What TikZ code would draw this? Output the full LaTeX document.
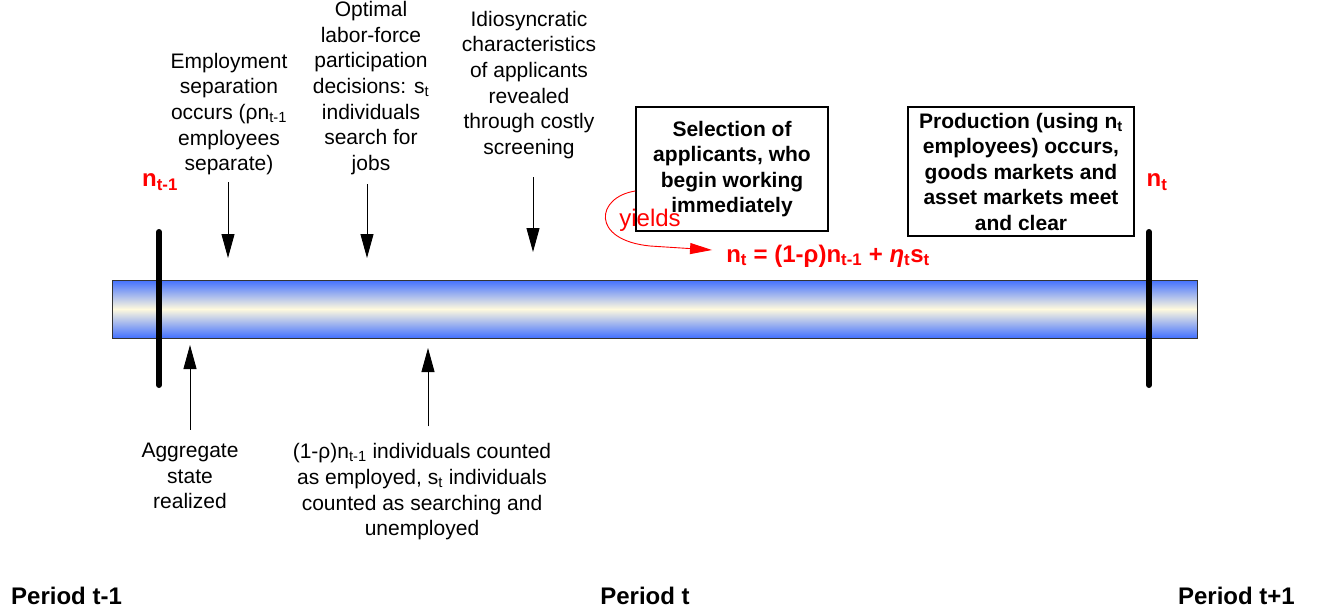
\documentclass[tikz,border=0pt]{standalone}
\usepackage{fontspec}
\setmainfont{Liberation Sans}
\usetikzlibrary{arrows.meta,positioning}
\definecolor{barblue}{RGB}{66,112,255}
\definecolor{barcream}{RGB}{255,250,222}
\newcommand{\lowidx}[1]{\textsubscript{#1}}

\begin{document}
\begin{tikzpicture}[x=1pt,y=-1pt,
		note/.style={align=center,inner sep=0pt,font=\fontsize{21}{25.7}\selectfont},
		event/.style={draw,line width=1.4pt,align=center,inner sep=0pt,font=\bfseries\fontsize{21}{25.5}\selectfont},
		pointer/.style={draw,-{Triangle[length=24pt,width=13pt]},line width=0.9pt},
		timemark/.style={line width=6pt,line cap=round},
		redlabel/.style={text=red,inner sep=0pt,font=\bfseries\fontsize{24}{28}\selectfont},
		period/.style={inner sep=0pt,font=\bfseries\fontsize{24}{28}\selectfont}
		]
		\useasboundingbox (0,0) rectangle (1327,615);
		% time line
		\node[draw=black!80,line width=0.8pt,minimum width=1085pt,minimum height=58pt,inner sep=0pt,
			top color=barblue,bottom color=barblue,middle color=barcream] (bar) at (654.5,309) {};
		\draw[timemark] (159,232) -- (159,385);
		\draw[timemark] (1149,232) -- (1149,385);
		% events above the line
		\node[note] (separation) at (229,114) {Employment\\separation\\occurs (ρn\lowidx{t-1}\\employees\\separate)};
		\node[note] (participation) at (371,88) {Optimal\\labor-force\\participation\\decisions: s\lowidx{t}\\individuals\\search for\\jobs};
		\node[note] (screening) at (529,85) {Idiosyncratic\\characteristics\\of applicants\\revealed\\through costly\\screening};
		% events below the line
		\node[note] (aggregate) at (190,476) {Aggregate\\state\\realized};
		\node[note] (counted) at (422,492) {(1-ρ)n\lowidx{t-1} individuals counted\\as employed, s\lowidx{t} individuals\\counted as searching and\\unemployed};
		% boxed events
		\node[event,minimum width=192pt,minimum height=124pt] (selection) at (732,169) {Selection of\\applicants, who\\begin working\\immediately};
		\node[event,minimum width=226pt,minimum height=129pt] (production) at (1021,171.5) {Production (using n\lowidx{t}\\employees) occurs,\\goods markets and\\asset markets meet\\and clear};
		% employment
		\node[redlabel] (nprev) at (160,182) {n\lowidx{t-1}};
		\node[redlabel] (ncur) at (1157,182) {n\lowidx{t}};
		\node[redlabel] (law) at (828,256) {n\lowidx{t} = (1-ρ)n\lowidx{t-1} + \textit{η}\lowidx{t}s\lowidx{t}};
		\node[text=red,inner sep=0pt,font=\fontsize{24}{28}\selectfont] (yields) at (650,220) {yields};
		% periods
		\node[period,anchor=west] (p0) at (11,596) {Period t-1};
		\node[period] (p1) at (645,596) {Period t};
		\node[period,anchor=east] (p2) at (1295,596) {Period t+1};
		% arrows
		\coordinate (septip) at (228,258);
		\coordinate (partip) at (367,258);
		\coordinate (scrtip) at (533,252);
		\coordinate (aggtip) at (190,345);
		\coordinate (cnttip) at (428,348);
		\draw[pointer,shorten <=7pt] (septip |- separation.south) -- (septip);
		\draw[pointer,shorten <=9pt] (partip |- participation.south) -- (partip);
		\draw[pointer,shorten <=18pt] (scrtip |- screening.south) -- (scrtip);
		\draw[pointer,shorten <=13pt] (aggtip |- aggregate.north) -- (aggtip);
		\draw[pointer,shorten <=17pt] (cnttip |- counted.north) -- (cnttip);
		\draw[red,line width=0.9pt,-{Triangle[length=22pt,width=11pt]}] ([yshift=-22pt]selection.west) .. controls (596,197) and (590,240) .. (650,246) -- ([xshift=-14pt,yshift=6pt]law.west);
	\end{tikzpicture}
\end{document}
